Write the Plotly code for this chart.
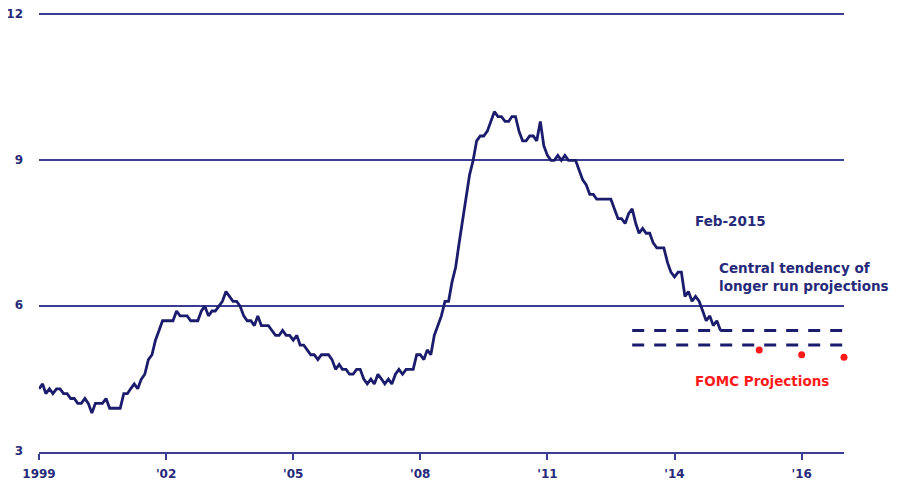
import plotly.graph_objects as go
import pandas as pd

# Monthly unemployment rate (%), Jan 1999 - Feb 2015
rate_1999 = [4.3, 4.4, 4.2, 4.3, 4.2, 4.3, 4.3, 4.2, 4.2, 4.1, 4.1, 4.0]
rate_2000 = [4.0, 4.1, 4.0, 3.8, 4.0, 4.0, 4.0, 4.1, 3.9, 3.9, 3.9, 3.9]
rate_2001 = [4.2, 4.2, 4.3, 4.4, 4.3, 4.5, 4.6, 4.9, 5.0, 5.3, 5.5, 5.7]
rate_2002 = [5.7, 5.7, 5.7, 5.9, 5.8, 5.8, 5.8, 5.7, 5.7, 5.7, 5.9, 6.0]
rate_2003 = [5.8, 5.9, 5.9, 6.0, 6.1, 6.3, 6.2, 6.1, 6.1, 6.0, 5.8, 5.7]
rate_2004 = [5.7, 5.6, 5.8, 5.6, 5.6, 5.6, 5.5, 5.4, 5.4, 5.5, 5.4, 5.4]
rate_2005 = [5.3, 5.4, 5.2, 5.2, 5.1, 5.0, 5.0, 4.9, 5.0, 5.0, 5.0, 4.9]
rate_2006 = [4.7, 4.8, 4.7, 4.7, 4.6, 4.6, 4.7, 4.7, 4.5, 4.4, 4.5, 4.4]
rate_2007 = [4.6, 4.5, 4.4, 4.5, 4.4, 4.6, 4.7, 4.6, 4.7, 4.7, 4.7, 5.0]
rate_2008 = [5.0, 4.9, 5.1, 5.0, 5.4, 5.6, 5.8, 6.1, 6.1, 6.5, 6.8, 7.3]
rate_2009 = [7.8, 8.3, 8.7, 9.0, 9.4, 9.5, 9.5, 9.6, 9.8, 10.0, 9.9, 9.9]
rate_2010 = [9.8, 9.8, 9.9, 9.9, 9.6, 9.4, 9.4, 9.5, 9.5, 9.4, 9.8, 9.3]
rate_2011 = [9.1, 9.0, 9.0, 9.1, 9.0, 9.1, 9.0, 9.0, 9.0, 8.8, 8.6, 8.5]
rate_2012 = [8.3, 8.3, 8.2, 8.2, 8.2, 8.2, 8.2, 8.0, 7.8, 7.8, 7.7, 7.9]
rate_2013 = [8.0, 7.7, 7.5, 7.6, 7.5, 7.5, 7.3, 7.2, 7.2, 7.2, 6.9, 6.7]
rate_2014 = [6.6, 6.7, 6.7, 6.2, 6.3, 6.1, 6.2, 6.1, 5.9, 5.7, 5.8, 5.6]
rate_2015 = [5.7, 5.5]

series_start = "1999-01-01"

# Central tendency of longer run projections
longer_run_low = 5.2
longer_run_high = 5.5
longer_run_span = ["2013-01-01", "2018-01-01"]

# FOMC projections (year-end 2015, 2016, 2017)
fomc_dates = ["2016-01-01", "2017-01-01", "2018-01-01"]
fomc_values = [5.1, 5.0, 4.95]

# Axes
x_tick_dates = ["1999-01-01", "2002-01-01", "2005-01-01", "2008-01-01",
                "2011-01-01", "2014-01-01", "2017-01-01"]
x_tick_labels = ["1999", "'02", "'05", "'08", "'11", "'14", "'16"]
y_tick_values = [3, 6, 9, 12]
y_tick_labels = ["3", "6", "9", "12"]

rates = (rate_1999 + rate_2000 + rate_2001 + rate_2002 + rate_2003 + rate_2004
         + rate_2005 + rate_2006 + rate_2007 + rate_2008 + rate_2009 + rate_2010
         + rate_2011 + rate_2012 + rate_2013 + rate_2014 + rate_2015)
dates = pd.date_range(series_start, periods=len(rates), freq="MS")

NAVY = "#1b1c6c"
GRID = "#3b3d93"
TEXT = "#262a78"
RED = "#ff1a1a"
FONT = "DejaVu Sans, Verdana, sans-serif"

fig = go.Figure()

fig.add_trace(go.Scatter(
    x=dates, y=rates, mode="lines",
    line=dict(color=NAVY, width=2.8), showlegend=False, hoverinfo="skip"))

for lvl in (longer_run_high, longer_run_low):
    fig.add_trace(go.Scatter(
        x=longer_run_span, y=[lvl, lvl], mode="lines",
        line=dict(color=NAVY, width=3, dash="12px,10px"),
        showlegend=False, hoverinfo="skip"))

fig.add_trace(go.Scatter(
    x=fomc_dates, y=fomc_values, mode="markers",
    marker=dict(color=RED, size=7), showlegend=False, hoverinfo="skip",
    cliponaxis=False))

fig.add_annotation(x="2014-06-05", y=7.76, xref="x", yref="y", text="<b>Feb-2015</b>",
                   showarrow=False, xanchor="left", yanchor="middle",
                   font=dict(family=FONT, size=13.5, color=TEXT))
fig.add_annotation(x="2015-01-01", y=6.61, xref="x", yref="y",
                   text="<b>Central tendency of<br>longer run projections</b>",
                   showarrow=False, xanchor="left", yanchor="middle", align="left",
                   font=dict(family=FONT, size=13.5, color=TEXT))
fig.add_annotation(x="2014-06-05", y=4.46, xref="x", yref="y", text="<b>FOMC Projections</b>",
                   showarrow=False, xanchor="left", yanchor="middle",
                   font=dict(family=FONT, size=13.5, color=RED))

fig.update_xaxes(
    type="date", range=["1999-01-01", "2018-01-01"], automargin=False,
    tickmode="array", tickvals=x_tick_dates, ticktext=x_tick_labels,
    ticks="outside", ticklen=6, tickwidth=2, tickcolor=GRID,
    showline=True, linecolor=GRID, linewidth=2,
    showgrid=False, zeroline=False, ticklabelstandoff=4,
    ticklabeloverflow="allow",
    tickfont=dict(family=FONT, size=12, color=TEXT, weight="bold"))

fig.update_yaxes(
    range=[3, 12.03], automargin=False,
    tickmode="array", tickvals=y_tick_values, ticktext=y_tick_labels,
    ticks="", showline=False, showgrid=True, gridcolor=GRID, gridwidth=1.5,
    zeroline=False, ticklabelstandoff=15, ticklabeloverflow="allow",
    ticklabelshift=-1,
    tickfont=dict(family=FONT, size=12, color=TEXT, weight="bold"))

# page body adds an 8px offset, so the figure is sized to fill the rest of the window
fig.update_layout(
    width=890, height=473,
    margin=dict(l=31, r=54, t=5, b=29),
    plot_bgcolor="white", paper_bgcolor="white",
    font=dict(family=FONT))

fig.write_html("out.html")
